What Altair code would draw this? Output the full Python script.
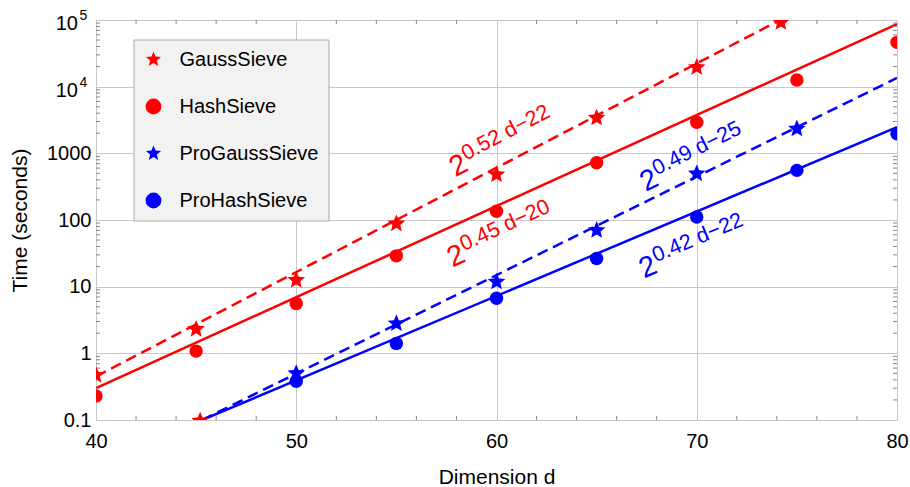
import altair as alt
import pandas as pd

# ---------------- data ----------------
series_names = ["GaussSieve", "HashSieve", "ProGaussSieve", "ProHashSieve"]
series_colors = ["#ff0000", "#ff0000", "#0000ff", "#0000ff"]

gauss_d = [40, 45, 50, 55, 60, 65, 70, 74.2, 45.2]
gauss_t = [0.47, 2.3, 12.5, 88, 480, 3400, 19500, 92000, 0.097]
hash_d = [40, 45, 50, 55, 60, 65, 70, 75, 80]
hash_t = [0.23, 1.08, 5.6, 29, 135, 723, 2930, 12600, 46200]
progauss_d = [50, 55, 60, 65, 70, 75]
progauss_t = [0.5, 2.8, 11.8, 70, 495, 2330]
prohash_d = [50, 55, 60, 65, 70, 75, 80]
prohash_t = [0.38, 1.41, 6.7, 26.4, 111, 555, 1965]

# fitted lines, read as end points
fit_series = ["GaussSieve", "HashSieve", "ProGaussSieve", "ProHashSieve"]
fit_d0 = [40, 40, 45.3, 45.3]
fit_t0 = [0.45, 0.30, 0.1, 0.1]
fit_d1 = [80, 80, 80, 80]
fit_t1 = [8.2e5, 87000, 13500, 2470]
fit_dashed = [True, False, True, False]

# fit annotations
label_exponent = ["0.52 d\u221222", "0.45 d\u221220", "0.49 d\u221225", "0.42 d\u221222"]
label_d = [57.95, 57.8, 67.45, 67.37]
label_t = [436, 19.4, 262, 13.3]
label_angle = [332.5, 335.5, 333.7, 337]

# axes
x_ticks = [40, 50, 60, 70, 80]
y_ticks = [0.1, 1, 10, 100, 1000, 10000, 100000]
x_minor = [d for d in range(42, 80, 2) if d % 10 != 0]
y_minor = [k * 10 ** e for e in range(-1, 5) for k in range(2, 10)]
pow_t = [10000, 100000]
pow_exp = ["4", "5"]

# ---------------- tables ----------------
color_of = dict(zip(series_names, series_colors))
pts = pd.DataFrame({
    "series": ["GaussSieve"] * len(gauss_d) + ["HashSieve"] * len(hash_d)
    + ["ProGaussSieve"] * len(progauss_d) + ["ProHashSieve"] * len(prohash_d),
    "d": gauss_d + hash_d + progauss_d + prohash_d,
    "t": gauss_t + hash_t + progauss_t + prohash_t,
})
stars = pts[pts.series.isin(["GaussSieve", "ProGaussSieve"])]
circles = pts[pts.series.isin(["HashSieve", "ProHashSieve"])]

rows = []
for s, a, b, c, e, dsh in zip(fit_series, fit_d0, fit_t0, fit_d1, fit_t1, fit_dashed):
    rows.append({"series": s, "d": a, "t": b, "dashed": dsh, "col": color_of[s]})
    rows.append({"series": s, "d": c, "t": e, "dashed": dsh, "col": color_of[s]})
fits = pd.DataFrame(rows)

labels = pd.DataFrame({"series": fit_series, "d": label_d, "t": label_t,
                       "exp": label_exponent, "angle": label_angle, "base": ["2"] * 4,
                       "col": [color_of[s] for s in fit_series]})
xminor_df = pd.DataFrame({"d": x_minor})
yminor_df = pd.DataFrame({"t": y_minor})
pow_df = pd.DataFrame({"t": pow_t, "exp": pow_exp, "base": ["10"] * 2})

W, H = 801, 400
FONT = "Liberation Sans"
xs = alt.Scale(domain=[40, 80], nice=False, zero=False)
ys = alt.Scale(type="log", domain=[0.1, 100000], nice=False)
cs = alt.Scale(domain=series_names, range=series_colors)
STAR = ("M0,-1L0.265,-0.364L0.951,-0.309L0.428,0.139L0.588,0.809L0,0.45"
        "L-0.588,0.809L-0.428,0.139L-0.951,-0.309L-0.265,-0.364Z")
ss = alt.Scale(domain=series_names, range=[STAR, "circle", STAR, "circle"])

x_axis = alt.Axis(values=x_ticks, grid=True, gridColor="#c8c8c8", domain=False, ticks=False,
                  labelFontSize=20, labelFont=FONT, labelColor="black", labelPadding=11,
                  labelFlush=False, labelOverlap=False,
                  title="Dimension d", titleFont=FONT, titleFontSize=21, titleFontWeight="normal",
                  titleColor="black", titleY=63, titleBaseline="alphabetic")
y_axis = alt.Axis(values=y_ticks, grid=True, gridColor="#c8c8c8", domain=False, ticks=False,
                  labelFontSize=20, labelFont=FONT, labelColor="black", labelPadding=5,
                  labelFlush=False, labelOverlap=False,
                  labelExpr="datum.value >= 10000 ? '' : (datum.value < 0.5 ? '0.1' : format(datum.value, 'd'))",
                  title="Time (seconds)", titleFont=FONT, titleFontSize=21, titleFontWeight="normal",
                  titleColor="black", titleX=-70, titleY=200, titleAngle=270,
                  titleBaseline="alphabetic", titleAlign="center")


def X(ax=None):
    return alt.X("d:Q", scale=xs, axis=ax) if ax is not None else alt.X("d:Q", scale=xs)


def Y(ax=None):
    return alt.Y("t:Q", scale=ys, axis=ax) if ax is not None else alt.Y("t:Q", scale=ys)


C = alt.Color("col:N", scale=None)

solid = alt.Chart(fits[~fits.dashed]).mark_line(clip=True, strokeWidth=2.5).encode(
    x=X(x_axis), y=Y(y_axis), color=C, detail="series:N")
dashed = alt.Chart(fits[fits.dashed]).mark_line(clip=True, strokeWidth=2.5, strokeDash=[11, 6]).encode(
    x=X(), y=Y(), color=C, detail="series:N")

leg = alt.Legend(orient="none", legendX=37.5, legendY=19.5, title=None,
                 fillColor="#f2f2f2", strokeColor="#aaaaaa", padding=10,
                 labelFont=FONT, labelFontSize=20, labelColor="black", labelOffset=16,
                 symbolSize=250, symbolStrokeWidth=0, rowPadding=27)

star_layer = alt.Chart(stars).mark_point(filled=True, size=340, opacity=1, clip=True).encode(
    x=X(), y=Y(), color=alt.Color("series:N", scale=cs, legend=leg),
    shape=alt.Shape("series:N", scale=ss, legend=leg))
circle_layer = alt.Chart(circles).mark_point(filled=True, size=180, opacity=1, clip=True).encode(
    x=X(), y=Y(), color=alt.Color("series:N", scale=cs, legend=leg),
    shape=alt.Shape("series:N", scale=ss, legend=leg))

base_txt = alt.Chart(labels).mark_text(align="left", baseline="alphabetic", font=FONT, fontSize=29).encode(
    x=X(), y=Y(), text="base:N", color=C, angle=alt.Angle("angle:Q", scale=None))
exp_txt = alt.Chart(labels).mark_text(align="left", baseline="alphabetic", font=FONT, fontSize=21.5,
                                      dx=17, dy=-10).encode(
    x=X(), y=Y(), text="exp:N", color=C, angle=alt.Angle("angle:Q", scale=None))

TICK = "#888888"
t_bottom = alt.Chart(xminor_df).mark_rule(color=TICK, strokeWidth=1).encode(
    x=X(), y=alt.value(H), y2=alt.value(H - 4))
t_top = alt.Chart(xminor_df).mark_rule(color=TICK, strokeWidth=1).encode(
    x=X(), y=alt.value(0), y2=alt.value(4))
t_left = alt.Chart(yminor_df).mark_rule(color=TICK, strokeWidth=1).encode(
    y=Y(), x=alt.value(0), x2=alt.value(4))
t_right = alt.Chart(yminor_df).mark_rule(color=TICK, strokeWidth=1).encode(
    y=Y(), x=alt.value(W - 4), x2=alt.value(W))

pow_base = alt.Chart(pow_df).mark_text(align="right", baseline="alphabetic", font=FONT, fontSize=20,
                                       dx=-18, dy=10, color="black").encode(
    x=alt.value(0), y=Y(), text="base:N")
pow_exp_l = alt.Chart(pow_df).mark_text(align="left", baseline="alphabetic", font=FONT, fontSize=14,
                                        dx=-16.5, dy=0, color="black").encode(
    x=alt.value(0), y=Y(), text="exp:N")

chart = alt.layer(
    solid, dashed, t_bottom, t_top, t_left, t_right,
    star_layer, circle_layer, base_txt, exp_txt, pow_base, pow_exp_l
).properties(
    width=W, height=H,
    autosize=alt.AutoSizeParams(type="none"),
    padding={"left": 96, "top": 20, "right": 13, "bottom": 67},
).configure_view(stroke="#888888", strokeWidth=1).configure(background="white")

chart.save("out.html", embed_options={"renderer": "svg", "actions": False})
